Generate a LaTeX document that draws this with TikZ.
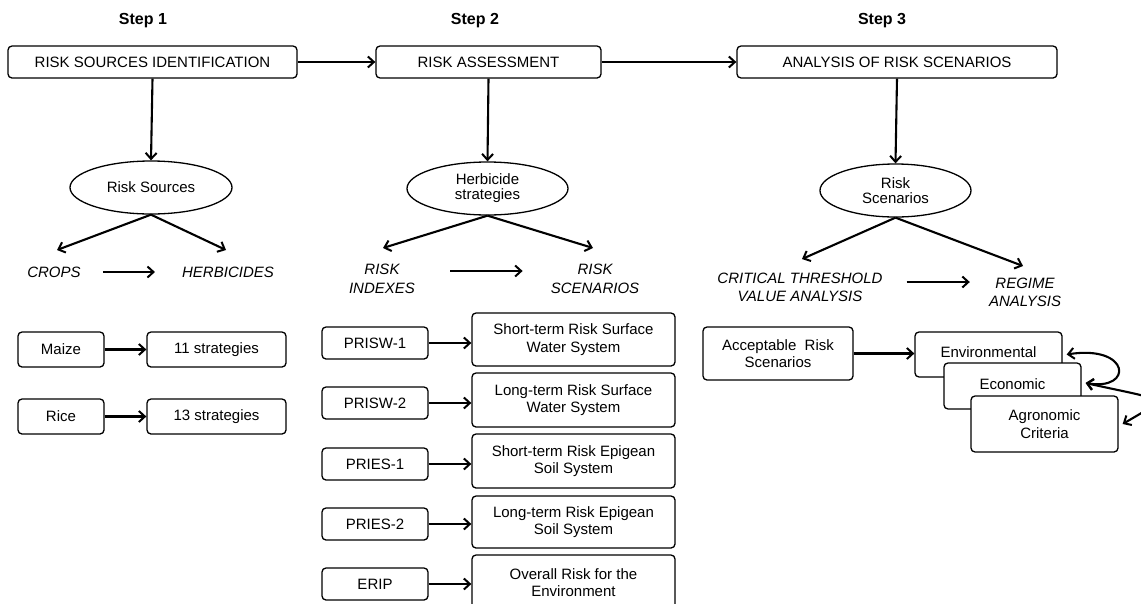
\documentclass[tikz,border=0pt]{standalone}
\usepackage{fontspec}
\setmainfont{Liberation Sans}
\usetikzlibrary{arrows.meta,shapes.geometric}
\begin{document}
\begin{tikzpicture}[x=1pt,y=-1pt,
  every node/.style={font=\fontsize{15}{17.5}\selectfont, inner sep=0pt, align=center},
  box/.style={draw, rounded corners=4pt, line width=1.3pt, fill=white},
  oval/.style={draw, ellipse, line width=1.3pt, font=\fontsize{15}{15}\selectfont},
  steplabel/.style={font=\fontsize{16}{18}\selectfont\bfseries},
  lbl/.style={font=\fontsize{15}{18.5}\selectfont\itshape},
  tip/.tip={Straight Barb[length=6pt,width=11pt,line width=2pt]},
  arr/.style={-tip, line width=2.1pt},
  dblarr/.style={tip-tip, line width=2.1pt}
]
\useasboundingbox (0,0) rectangle (1141,603);

% step headings
\node[steplabel] (s1) at (143,21) {Step 1};
\node[steplabel] (s2) at (475,21) {Step 2};
\node[steplabel] (s3) at (882,21) {Step 3};

% main process boxes
\node[box, minimum width=289pt, minimum height=32pt] (rsi) at (152.5,62) {RISK SOURCES IDENTIFICATION};
\node[box, minimum width=225pt, minimum height=32pt] (ra) at (488.5,62) {RISK ASSESSMENT};
\node[box, minimum width=320pt, minimum height=32pt] (ars) at (897,62) {ANALYSIS OF RISK SCENARIOS};
\draw[arr] (rsi.east) -- (ra.west);
\draw[arr] (ra.east) -- (ars.west);

% ovals
\node[oval, minimum width=162pt, minimum height=53pt] (e1) at (151,187.5) {Risk Sources};
\node[oval, minimum width=161pt, minimum height=53pt] (e2) at (487.5,188.5) {Herbicide\\strategies};
\node[oval, minimum width=151pt, minimum height=53pt] (e3) at (895.5,190.5) {Risk\\Scenarios};
\draw[arr] (rsi.south) -- (e1.north);
\draw[arr] (ra.south) -- (e2.north);
\draw[arr] (ars.south) -- (e3.north);

% italic labels
\node[lbl] (crops) at (54,272) {CROPS};
\node[lbl] (herb) at (228,272) {HERBICIDES};
\node[lbl] (rind) at (382,279) {RISK\\INDEXES};
\node[lbl] (rscen) at (595,279) {RISK\\SCENARIOS};
\node[lbl] (crit) at (800,287.5) {CRITICAL THRESHOLD\\VALUE ANALYSIS};
\node[lbl] (regime) at (1025,292.5) {REGIME\\ANALYSIS};

% split arrow tips
\coordinate (t1) at (57,250);
\coordinate (t2) at (226,250);
\coordinate (t3) at (383,248);
\coordinate (t4) at (593,248);
\coordinate (t5) at (802,259);
\coordinate (t6) at (1023,266);
\draw[arr] (e1.south) -- (t1);
\draw[arr] (e1.south) -- (t2);
\draw[arr] (e2.south) -- (t3);
\draw[arr] (e2.south) -- (t4);
\draw[arr] (e3.south) -- (t5);
\draw[arr] (e3.south) -- (t6);

\draw[arr, shorten <=22pt, shorten >=27pt] (crops.east) -- (herb.west);
\draw[arr, shorten <=35pt, shorten >=28pt] ([yshift=8pt]rind.east) -- ([yshift=8pt]rscen.west);
\draw[arr, shorten <=24pt, shorten >=19pt] ([yshift=5.5pt]crit.east) -- ([yshift=5.5pt]crit.east -| regime.west);

% step 1 detail boxes
\node[box, minimum width=86pt, minimum height=35pt] (maize) at (61,349.5) {Maize};
\node[box, minimum width=139pt, minimum height=35pt] (s11) at (216.5,349.5) {11 strategies};
\node[box, minimum width=86pt, minimum height=35pt] (rice) at (61,416.5) {Rice};
\node[box, minimum width=139pt, minimum height=35pt] (s13) at (216.5,416.5) {13 strategies};
\draw[arr] (maize.east) -- (s11.west);
\draw[arr] (rice.east) -- (s13.west);

% step 2 detail boxes
\node[box, minimum width=106pt, minimum height=32pt] (p1) at (375,343) {PRISW-1};
\node[box, minimum width=203pt, minimum height=53pt] (b1) at (573.5,339.5) {Short-term Risk Surface\\Water System};
\node[box, minimum width=106pt, minimum height=32pt] (p2) at (375,403) {PRISW-2};
\node[box, minimum width=203pt, minimum height=54pt] (b2) at (573.5,400) {Long-term Risk Surface\\Water System};
\node[box, minimum width=106pt, minimum height=32pt] (p3) at (375,464) {PRIES-1};
\node[box, minimum width=203pt, minimum height=54pt] (b3) at (573.5,461) {Short-term Risk Epigean\\Soil System};
\node[box, minimum width=106pt, minimum height=32pt] (p4) at (375,524) {PRIES-2};
\node[box, minimum width=203pt, minimum height=52pt] (b4) at (573.5,522) {Long-term Risk Epigean\\Soil System};
\node[box, minimum width=106pt, minimum height=32pt] (p5) at (375,584) {ERIP};
\node[box, minimum width=203pt, minimum height=55pt] (b5) at (573.5,582.5) {Overall Risk for the\\Environment};
\foreach \i in {1,...,5}{
  \draw[arr] (p\i.east) -- (p\i.east -| b\i.west);
}

% step 3 detail boxes
\node[box, minimum width=150pt, minimum height=53pt] (acc) at (778,353.5) {Acceptable\ \ Risk\\Scenarios};
\node[box, minimum width=147pt, minimum height=45pt] (env) at (988.5,354.5) {\raisebox{4pt}{Environmental}};
\node[box, minimum width=137pt, minimum height=46pt] (econ) at (1012.5,386) {\raisebox{4pt}{Economic}};
\node[box, minimum width=147pt, minimum height=56pt] (agro) at (1044.5,424) {Agronomic\\Criteria};
\draw[arr] (acc.east) -- (acc.east -| env.west);

\coordinate (envtip) at ([xshift=4pt]env.east);
\coordinate (econtip) at ([xshift=4pt,yshift=3pt]econ.east);
\coordinate (agrotip) at ([xshift=4pt]agro.east);
\draw[dblarr] (envtip) .. controls +(64,-10) and +(48,8) .. (econtip);
\draw[dblarr] (econtip) .. controls +(80,18) and +(48,-28) .. (agrotip);
\end{tikzpicture}
\end{document}
